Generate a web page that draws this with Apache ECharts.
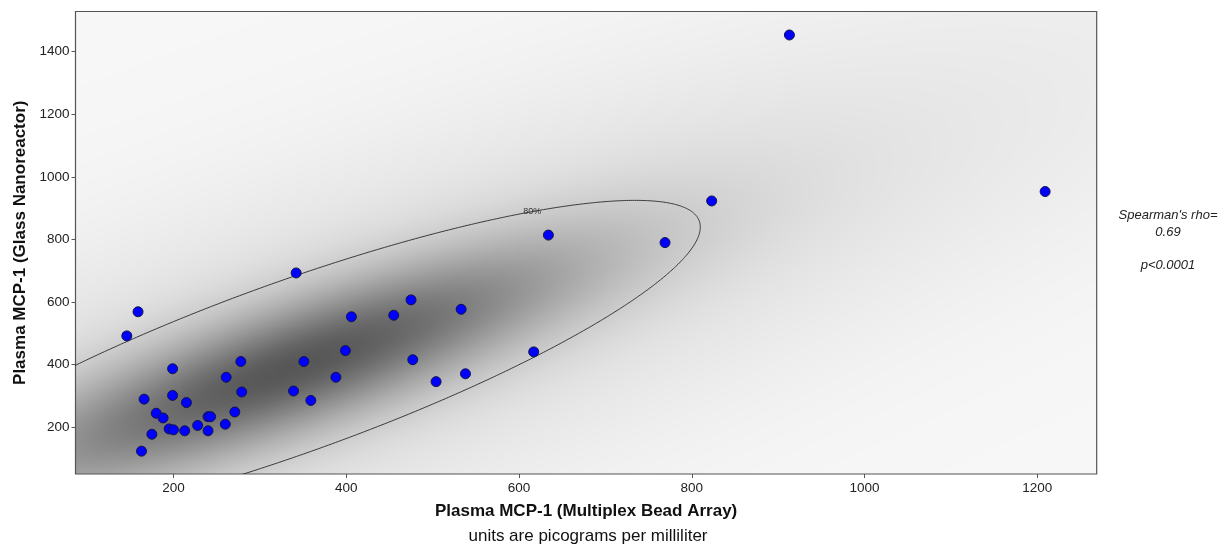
<!DOCTYPE html>
<html><head><meta charset="utf-8">
<script src="https://cdn.jsdelivr.net/npm/echarts@6/dist/echarts.min.js"></script>
<style>html,body{margin:0;padding:0;background:#fff}#c{width:1229px;height:547px}</style>
</head><body><div id="c"></div>
<script>
// ---- data ----
const mbaValues  = [159,146,199,166,199,215,180,188,195,200,175,163,213,228,240,243,240,260,271,261,278,279,339,351,359,388,399,406,342,634,769,475,455,533,477,504,538,617,823,913,1209];
const nanoValues = [569,492,387,290,302,279,245,230,195,192,178,124,189,206,234,234,189,210,249,360,410,313,316,410,286,360,445,553,693,814,790,607,558,577,416,346,371,441,923,1453,953];
const xTicks = [200,400,600,800,1000,1200];
const yTicks = [200,400,600,800,1000,1200,1400];
const statLines = ["Spearman's rho=", "0.69", "", "p<0.0001"];
const contourText = "80%";
// bivariate-normal density model read from the shading / contour
const densCenter = [338, 392];
const densSd = [263, 297];
const densRho = 0.84;
const contourProb = 0.8;
const contourLabelX = 615;

const X_MIN = 86.6, X_MAX = 1268.7, Y_MIN = 51, Y_MAX = 1528;
const FONT = "'Liberation Sans', Arial, sans-serif";
const points = mbaValues.map((x, i) => [x, nanoValues[i]]);

function mahal(x, y) {
  const zx = (x - densCenter[0]) / densSd[0], zy = (y - densCenter[1]) / densSd[1];
  return (zx * zx - 2 * densRho * zx * zy + zy * zy) / (1 - densRho * densRho);
}
function grayFor(q) {
  const d = 0.8 * Math.exp(-q / 1.6) + 0.2 * Math.exp(-q / 12);
  return Math.max(0, Math.min(255, Math.round(247 - 160 * d)));
}
let cache = null;
function renderDensity(params, api) {
  const p0 = api.coord([X_MIN, Y_MAX]);
  const p1 = api.coord([X_MAX, Y_MIN]);
  const w = Math.max(1, Math.round(p1[0] - p0[0])), h = Math.max(1, Math.round(p1[1] - p0[1]));
  if (!cache || cache.width !== w || cache.height !== h) {
    const cv = document.createElement('canvas');
    cv.width = w; cv.height = h;
    const ctx = cv.getContext('2d');
    const img = ctx.createImageData(w, h);
    for (let j = 0; j < h; j++) {
      const y = Y_MAX - (j + 0.5) / h * (Y_MAX - Y_MIN);
      for (let i = 0; i < w; i++) {
        const x = X_MIN + (i + 0.5) / w * (X_MAX - X_MIN);
        const g = grayFor(mahal(x, y));
        const o = (j * w + i) * 4;
        img.data[o] = g; img.data[o + 1] = g; img.data[o + 2] = g; img.data[o + 3] = 255;
      }
    }
    ctx.putImageData(img, 0, 0);
    cache = cv;
  }
  return { type: 'image', silent: true, style: { image: cache, x: p0[0], y: p0[1], width: w, height: h } };
}
function renderContour(params, api) {
  const k = Math.sqrt(-2 * Math.log(1 - contourProb));
  const s = Math.sqrt(1 - densRho * densRho);
  const pts = [];
  let best = null, bestD = Infinity;
  for (let t = 0; t <= 720; t++) {
    const a = t * Math.PI / 360;
    const u = Math.cos(a), v = Math.sin(a);
    const x = densCenter[0] + densSd[0] * k * u;
    const y = densCenter[1] + densSd[1] * k * (densRho * u + s * v);
    pts.push(api.coord([x, y]));
    if (y > densCenter[1] + densRho * densSd[1] * (x - densCenter[0]) / densSd[0]) {
      const d = Math.abs(x - contourLabelX);
      if (d < bestD) { bestD = d; best = [x, y]; }
    }
  }
  const lp = api.coord(best);
  return {
    type: 'group', silent: true,
    children: [
      { type: 'polyline', shape: { points: pts }, style: { stroke: '#2a2a2a', lineWidth: 0.9, fill: null } },
      { type: 'text', style: { text: contourText, x: lp[0], y: lp[1], align: 'center', verticalAlign: 'middle', font: "9px " + FONT, fill: '#333' } }
    ]
  };
}

const chart = echarts.init(document.getElementById('c'), null, { renderer: 'canvas' });
chart.setOption({
  animation: false,
  backgroundColor: '#fff',
  grid: { left: 75.5, top: 11.5, right: 132.3, bottom: 73, show: true, borderColor: '#555', borderWidth: 1.2, backgroundColor: 'transparent', containLabel: false },
  xAxis: {
    type: 'value', min: X_MIN, max: X_MAX,
    name: 'Plasma MCP-1 (Multiplex Bead Array)', nameLocation: 'middle', nameGap: 29,
    nameTextStyle: { fontFamily: FONT, fontWeight: 'bold', fontSize: 17, color: '#111' },
    axisLine: { show: false },
    axisTick: { show: true, length: 4, lineStyle: { color: '#555' }, customValues: xTicks },
    axisLabel: { margin: 7, fontFamily: FONT, fontSize: 13.5, color: '#222', customValues: xTicks, formatter: v => String(v) },
    splitLine: { show: false }
  },
  yAxis: {
    type: 'value', min: Y_MIN, max: Y_MAX,
    name: 'Plasma MCP-1 (Glass Nanoreactor)', nameLocation: 'middle', nameGap: 40,
    nameTextStyle: { fontFamily: FONT, fontWeight: 'bold', fontSize: 17, color: '#111' },
    axisLine: { show: false },
    axisTick: { show: true, length: 4, lineStyle: { color: '#555' }, customValues: yTicks },
    axisLabel: { margin: 6, fontFamily: FONT, fontSize: 13.5, color: '#222', customValues: yTicks, formatter: v => String(v) },
    splitLine: { show: false }
  },
  graphic: [
    { type: 'text', style: { text: 'units are picograms per milliliter', x: 588, y: 536, font: "17px " + FONT, fill: '#111', align: 'center', verticalAlign: 'middle' } },
    { type: 'text', style: { text: statLines.join('\n'), x: 1168, y: 207, font: "italic 13px " + FONT, fill: '#222', align: 'center', verticalAlign: 'top', lineHeight: 16.8 } }
  ],
  series: [
    { type: 'custom', name: 'density', z: -1, silent: true, clip: true, data: [[X_MIN, Y_MIN]], renderItem: renderDensity },
    { type: 'custom', name: 'contour', z: 1, silent: true, clip: true, data: [[X_MIN, Y_MIN]], renderItem: renderContour },
    { type: 'scatter', name: 'samples', z: 3, data: points, symbol: 'circle', symbolSize: 10,
      itemStyle: { color: '#0000ff', borderColor: '#14144a', borderWidth: 1, opacity: 1 } }
  ]
});
</script>
</body></html>
